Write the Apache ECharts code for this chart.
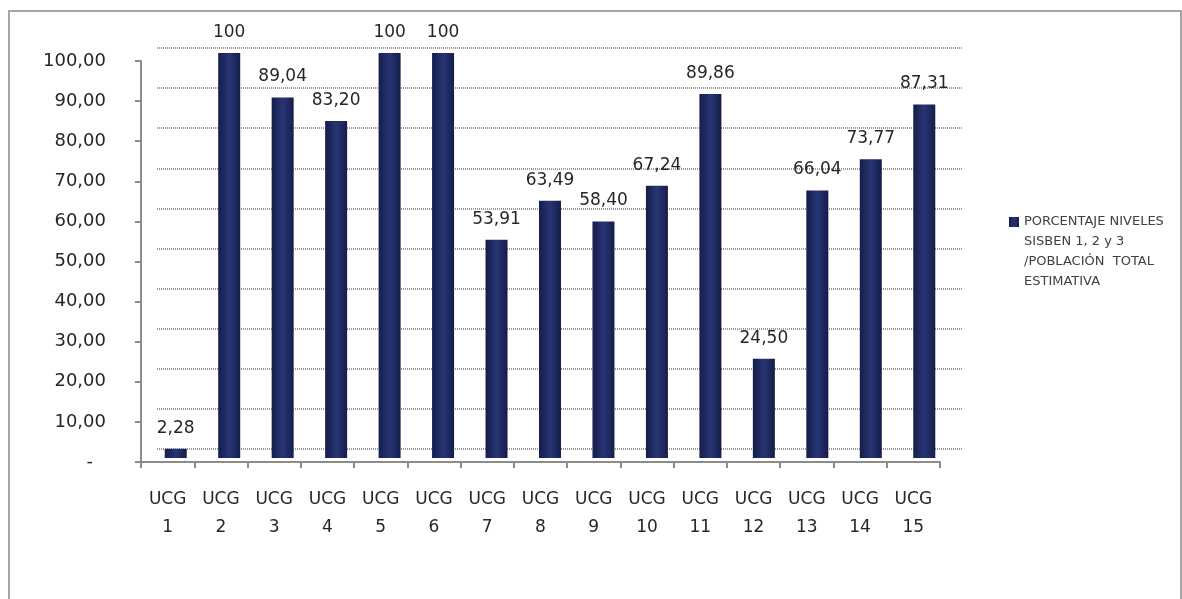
<!DOCTYPE html>
<html><head><meta charset="utf-8">
<script src="https://cdn.jsdelivr.net/npm/echarts@6/dist/echarts.min.js"></script>
<style>
html,body{margin:0;padding:0;background:#fff;overflow:hidden}
#frame{position:absolute;left:8px;top:10px;width:1170px;height:640px;border:2px solid #a6a6a6;border-bottom:none}
#chart{position:absolute;left:0;top:0;width:1182px;height:599px}
</style></head>
<body>
<div id="frame"></div>
<div id="chart"></div>
<script>
const categories = ['UCG\n1','UCG\n2','UCG\n3','UCG\n4','UCG\n5','UCG\n6','UCG\n7','UCG\n8','UCG\n9','UCG\n10','UCG\n11','UCG\n12','UCG\n13','UCG\n14','UCG\n15'];
const values = [2.28,100,89.04,83.20,100,100,53.91,63.49,58.40,67.24,89.86,24.50,66.04,73.77,87.31];
const seriesName = 'PORCENTAJE NIVELES\nSISBEN 1, 2 y 3\n/POBLACIÓN  TOTAL\nESTIMATIVA';
const yMin = 0, yMax = 100, yStep = 10;

const font = 'DejaVu Sans';
const fmtNum = v => (v === 100 ? '100' : v.toFixed(2).replace('.', ','));
const fmtAxis = v => (v === 0 ? '{z|-}' : v.toFixed(2).replace('.', ','));

const chart = echarts.init(document.getElementById('chart'));
chart.setOption({
  animation: false,
  backgroundColor: 'transparent',
  textStyle: {fontFamily: font},
  grid: [
    {left: 141, right: 242, top: 61, bottom: 137},   // front axes
    {left: 157, right: 219, top: 48, bottom: 150},   // back wall
    {left: 149, right: 231, top: 53, bottom: 141}    // bars (mid depth)
  ],
  legend: {
    data: [seriesName],
    left: 1004, top: 207,
    itemWidth: 10, itemHeight: 70,
    icon: 'path://M0,0H10V10H0Z M0,70L10,70L10,70Z',
    itemGap: 4,
    textStyle: {fontFamily: font, fontSize: 13, color: '#404040', lineHeight: 20}
  },
  xAxis: [
    {gridIndex: 0, type: 'category', data: categories,
     axisLine: {lineStyle: {color: '#8c8c8c', width: 2}},
     axisTick: {show: true, length: 6, lineStyle: {color: '#8c8c8c', width: 2}},
     axisLabel: {fontFamily: font, fontSize: 17, color: '#262626', lineHeight: 28, margin: 24, interval: 0}},
    {gridIndex: 1, type: 'category', data: categories, show: false},
    {gridIndex: 2, type: 'category', data: categories, show: false}
  ],
  yAxis: [
    {gridIndex: 0, type: 'value', min: yMin, max: yMax, interval: yStep,
     axisLine: {show: true, lineStyle: {color: '#8c8c8c', width: 2}},
     axisTick: {show: true, length: 6, lineStyle: {color: '#8c8c8c', width: 2}},
     splitLine: {show: false},
     axisLabel: {fontFamily: font, fontSize: 18, color: '#262626', margin: 35, formatter: fmtAxis,
       rich: {z: {fontFamily: font, fontSize: 18, color: '#262626', padding: [0, 13, 0, 0]}}}},
    {gridIndex: 1, type: 'value', min: yMin, max: yMax, interval: yStep,
     axisLine: {show: false}, axisTick: {show: false}, axisLabel: {show: false},
     splitLine: {show: true, lineStyle: {color: '#9a9a9a', width: 2, type: [1, 1]}}},
    {gridIndex: 2, type: 'value', min: yMin, max: yMax, interval: yStep, show: false, splitLine: {show: false}}
  ],
  series: [{
    name: seriesName,
    type: 'bar',
    xAxisIndex: 2, yAxisIndex: 2,
    data: values,
    barWidth: 22,
    itemStyle: {
      color: new echarts.graphic.LinearGradient(0, 0, 1, 0, [
        {offset: 0, color: '#151d4a'},
        {offset: 0.5, color: '#283574'},
        {offset: 1, color: '#151d4a'}
      ])
    },
    label: {show: true, position: 'top', distance: 12, fontFamily: font, fontSize: 17, color: '#262626', formatter: p => fmtNum(p.value)}
  }]
});
</script>
</body></html>
